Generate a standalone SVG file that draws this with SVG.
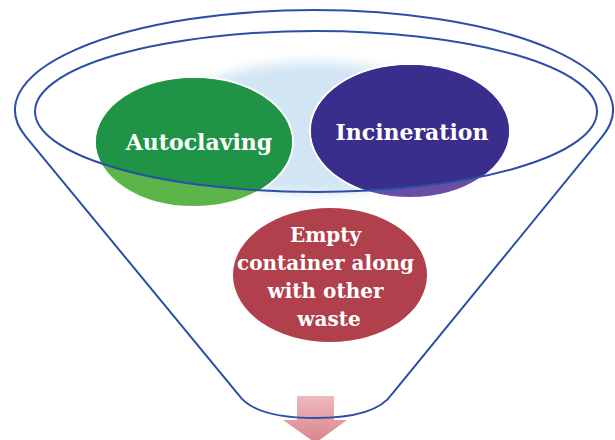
<svg xmlns="http://www.w3.org/2000/svg" width="615" height="440" viewBox="0 0 615 440">
  <style>
    .funnel { fill: none; stroke: #2b4fa6; stroke-width: 2; }
    .lbl { font-family: "DejaVu Serif", "Liberation Serif", serif; font-weight: bold; fill: #ffffff; text-anchor: middle; }
    .rim { stroke: #ffffff; stroke-width: 2; }
  </style>
  <defs>
    <clipPath id="inside">
      <ellipse cx="316" cy="111.5" rx="281" ry="80.5"/>
    </clipPath>
    <filter id="soft" x="-20%" y="-20%" width="140%" height="140%">
      <feGaussianBlur stdDeviation="6"/>
    </filter>
    <linearGradient id="arrowGrad" x1="0" y1="0" x2="0" y2="1">
      <stop offset="0" stop-color="#efb9be"/>
      <stop offset="1" stop-color="#d7848b"/>
    </linearGradient>
  </defs>

  <rect width="615" height="440" fill="#ffffff"/>

  <!-- pale background blob -->
  <ellipse cx="315" cy="128" rx="150" ry="66" fill="#d2e5f4" filter="url(#soft)"/>

  <g id="autoclaving">
    <ellipse class="rim" cx="194" cy="142" rx="99" ry="65" fill="#5cb548"/>
    <ellipse cx="194" cy="142" rx="98" ry="64" fill="#1f9446" clip-path="url(#inside)"/>
    <text class="lbl" x="199" y="150" font-size="22">Autoclaving</text>
  </g>

  <g id="incineration">
    <ellipse class="rim" cx="410" cy="131" rx="100" ry="67" fill="#6a4ea6"/>
    <ellipse cx="410" cy="131" rx="99" ry="66" fill="#3a2e8d" clip-path="url(#inside)"/>
    <text class="lbl" x="412" y="140" font-size="22">Incineration</text>
  </g>

  <g id="connectors">
    <path d="M297,396 H334 V420 H347 L315.5,443 L283,420 H297 Z" fill="url(#arrowGrad)"/>
  </g>

  <g id="funnel">
    <ellipse class="funnel" cx="316" cy="111.5" rx="281" ry="80.5"/>
    <path class="funnel" d="M25.6,136.4 A299,100 0 1 1 602.4,136.4 L392,394 C380,412 350,418 315,418 C280,418 250,412 238,394 Z"/>
  </g>

  <g id="empty-container">
    <ellipse cx="330" cy="275" rx="97" ry="67" fill="#b0404b"/>
    <text class="lbl" font-size="20">
      <tspan x="329" y="242">Empty</tspan>
      <tspan x="329" y="270">container along</tspan>
      <tspan x="329" y="298">with other</tspan>
      <tspan x="329" y="326">waste</tspan>
    </text>
  </g>
</svg>
